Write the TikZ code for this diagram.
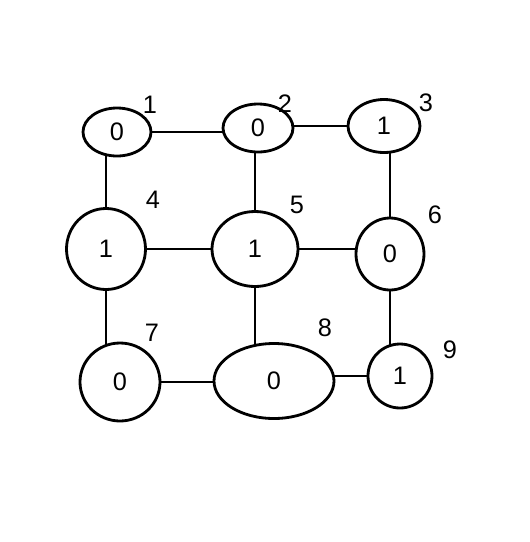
\documentclass[tikz,border=0pt]{standalone}
\usepackage{fontspec}
\setmainfont{Liberation Sans}
\usetikzlibrary{shapes, positioning, backgrounds}

\begin{document}
\begin{tikzpicture}[line width=1.6pt, link/.style={line width=1.6pt}, every node/.style={ellipse, draw, fill=white, inner sep=0pt, font=\Large}]
    \useasboundingbox (0,0) rectangle (10.6,-10.84);

    % top row
    \node (n1) at (2.34,-2.64) [minimum width=1.36cm, minimum height=0.96cm] {0};
    \node at (3.00,-2.10) [draw=none, fill=none] {1};
    \node (n2) at (5.16,-2.56) [minimum width=1.40cm, minimum height=0.96cm] {0};
    \node at (5.70,-2.08) [draw=none, fill=none] {2};
    \node (n3) at (7.68,-2.52) [minimum width=1.44cm, minimum height=1.06cm] {1};
    \node at (8.52,-2.06) [draw=none, fill=none] {3};

    % middle row
    \node (n4) at (2.12,-4.98) [minimum width=1.58cm, minimum height=1.62cm] {1};
    \node at (3.06,-4.00) [draw=none, fill=none] {4};
    \node (n5) at (5.10,-4.98) [minimum width=1.72cm, minimum height=1.50cm] {1};
    \node at (5.94,-4.10) [draw=none, fill=none] {5};
    \node (n6) at (7.80,-5.08) [minimum width=1.36cm, minimum height=1.44cm] {0};
    \node at (8.70,-4.30) [draw=none, fill=none] {6};

    % bottom row
    \node (n7) at (2.40,-7.64) [minimum width=1.60cm, minimum height=1.56cm] {0};
    \node at (3.04,-6.66) [draw=none, fill=none] {7};
    \node (n8) at (5.48,-7.62) [minimum width=2.40cm, minimum height=1.50cm] {0};
    \node at (6.50,-6.56) [draw=none, fill=none] {8};
    \node (n9) at (8.00,-7.52) [minimum width=1.28cm, minimum height=1.28cm] {1};
    \node at (9.00,-7.00) [draw=none, fill=none] {9};

    \begin{pgfonlayer}{background}
    \draw[link] (n1) -- (n1 -| n2);
    \draw[link] (n3) -- (n3 -| n2);
    \draw[link] (n4) -- (n4 -| n5);
    \draw[link] (n5) -- (n5 -| n6);
    \draw[link] (n7) -- (n7 -| n8);
    \draw[link] (n9) -- (n9 -| n8);
    \draw[link] (n4) -- (n4 |- n1);
    \draw[link] (n4) -- (n4 |- n7);
    \draw[link] (n5) -- (n5 |- n2);
    \draw[link] (n5) -- (n5 |- n8);
    \draw[link] (n6) -- (n6 |- n3);
    \draw[link] (n6) -- (n6 |- n9);
    \end{pgfonlayer}
\end{tikzpicture}
\end{document}
